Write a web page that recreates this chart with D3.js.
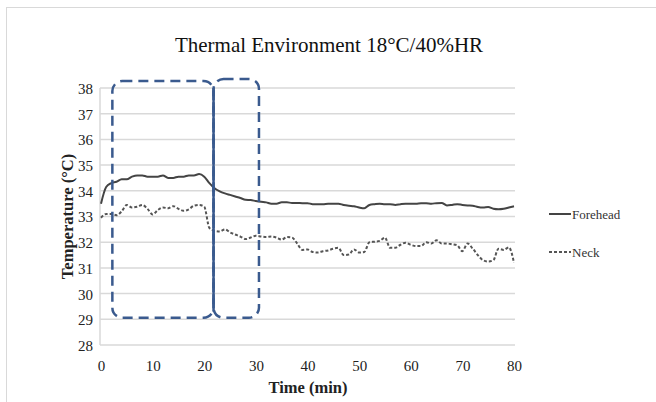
<!DOCTYPE html>
<html lang="en">
<head>
    <meta charset="UTF-8">
    <title>Thermal Environment 18°C/40%HR</title>
    <script src="https://d3js.org/d3.v7.min.js"></script>
    <style>
        body {
            margin: 0;
            background: white;
            font-family: "Liberation Serif", "Times New Roman", serif;
        }
        svg {
            display: block;
        }
        .grid line {
            stroke: #d9d9d9;
            stroke-width: 1.5;
        }
        .axis text {
            font-family: "Liberation Serif", serif;
            font-size: 15px;
            fill: #222;
        }
    </style>
</head>
<body>
<svg width="656" height="402"></svg>
<script>
    // minutes 0..80, one reading per minute
    const time = d3.range(0, 81);
    const forehead = [
        33.5, 34.15, 34.3, 34.35, 34.45, 34.45, 34.55, 34.6, 34.6, 34.55,
        34.55, 34.55, 34.6, 34.5, 34.5, 34.55, 34.55, 34.6, 34.6, 34.65,
        34.55, 34.3, 34.1, 33.98, 33.9, 33.84, 33.78, 33.72, 33.65, 33.64,
        33.6, 33.57, 33.55, 33.5, 33.5, 33.55, 33.55, 33.53, 33.53, 33.52,
        33.52, 33.48, 33.48, 33.48, 33.5, 33.5, 33.5, 33.45, 33.42, 33.4,
        33.35, 33.32, 33.45, 33.48, 33.5, 33.48, 33.48, 33.45, 33.48, 33.5,
        33.5, 33.5, 33.52, 33.52, 33.5, 33.52, 33.53, 33.43, 33.45, 33.48,
        33.45, 33.43, 33.42, 33.37, 33.35, 33.37, 33.3, 33.28, 33.3, 33.35,
        33.4
    ];
    const neck = [
        32.95, 33.1, 33.1, 33.05, 33.2, 33.45, 33.35, 33.38, 33.45, 33.3,
        33.08, 33.25, 33.35, 33.32, 33.4, 33.3, 33.22, 33.28, 33.42, 33.45,
        33.38, 32.55, 32.45, 32.42, 32.5, 32.38, 32.3, 32.22, 32.12, 32.18,
        32.25, 32.22, 32.2, 32.22, 32.18, 32.1, 32.2, 32.18, 31.95, 31.7,
        31.72, 31.62, 31.6, 31.65, 31.68, 31.75, 31.78, 31.5, 31.52, 31.72,
        31.6, 31.62, 32.0, 32.02, 32.05, 32.18, 31.78, 31.78, 31.9, 31.98,
        31.9, 31.85, 31.85, 32.0, 31.95, 32.08, 31.95, 31.95, 31.92, 31.88,
        31.65, 31.95, 31.75, 31.5, 31.3, 31.25, 31.3, 31.75, 31.7, 31.8,
        31.2
    ];
    const xTicks = [0, 10, 20, 30, 40, 50, 60, 70, 80];
    const yTicks = [28, 29, 30, 31, 32, 33, 34, 35, 36, 37, 38];

    // annotation boxes drawn over the plot, in data units [t0, t1, top, bottom]
    const phaseBoxes = [
        [2.2, 21.8, 38.27, 29.06],
        [21.8, 30.6, 38.35, 29.06]
    ];
    const splitLine = [21.8, 38.0, 29.3];

    const svg = d3.select("svg");
    const margin = { top: 88, left: 101, right: 142, bottom: 57 };
    const width = 656 - margin.left - margin.right,
        height = 402 - margin.top - margin.bottom;

    const x = d3.scaleLinear().domain([0, 80]).range([margin.left, margin.left + width]);
    const y = d3.scaleLinear().domain([28, 38]).range([margin.top + height, margin.top]);

    // outer frame
    svg.append("rect")
        .attr("x", 6.5).attr("y", 7.5)
        .attr("width", 660).attr("height", 400)
        .attr("fill", "none")
        .attr("stroke", "#d9d9d9");

    svg.append("text")
        .attr("x", 329).attr("y", 52)
        .attr("text-anchor", "middle")
        .attr("font-size", 21)
        .attr("fill", "#111")
        .text("Thermal Environment 18°C/40%HR");

    // horizontal grid
    svg.append("g").attr("class", "grid")
        .selectAll("line")
        .data(yTicks)
        .enter().append("line")
        .attr("x1", x(0) - 1).attr("x2", x(80) + 1)
        .attr("y1", d => y(d)).attr("y2", d => y(d));

    svg.append("line")
        .attr("x1", x(0) - 1).attr("x2", x(0) - 1)
        .attr("y1", y(38)).attr("y2", y(28))
        .attr("stroke", "#d9d9d9").attr("stroke-width", 1.5);

    const yAxis = svg.append("g").attr("class", "axis")
        .attr("transform", `translate(${x(0) - 1},0)`)
        .call(d3.axisLeft(y).tickValues(yTicks).tickSize(0).tickPadding(7));
    yAxis.select(".domain").remove();
    yAxis.selectAll("text").attr("dy", "0.36em");

    const xAxis = svg.append("g").attr("class", "axis")
        .attr("transform", `translate(0,${y(28)})`)
        .call(d3.axisBottom(x).tickValues(xTicks).tickSize(0).tickPadding(15));
    xAxis.select(".domain").remove();

    svg.append("text")
        .attr("transform", `translate(73,${y(33)}) rotate(-90)`)
        .attr("text-anchor", "middle")
        .attr("font-size", 16.5)
        .attr("font-weight", "bold")
        .attr("fill", "#222")
        .text("Temperature (°C)");

    svg.append("text")
        .attr("x", 308).attr("y", 393)
        .attr("text-anchor", "middle")
        .attr("font-size", 16.5)
        .attr("font-weight", "bold")
        .attr("fill", "#222")
        .text("Time (min)");

    const line = d3.line().x((d, i) => x(time[i])).y(d => y(d)).curve(d3.curveMonotoneX);

    svg.append("path")
        .datum(neck)
        .attr("d", line)
        .attr("fill", "none")
        .attr("stroke", "#555")
        .attr("stroke-width", 2)
        .attr("stroke-dasharray", "3,2");

    svg.append("path")
        .datum(forehead)
        .attr("d", line)
        .attr("fill", "none")
        .attr("stroke", "#444")
        .attr("stroke-width", 2);

    // blue phase boxes
    svg.selectAll(".phase")
        .data(phaseBoxes)
        .enter().append("rect")
        .attr("class", "phase")
        .attr("x", d => x(d[0]))
        .attr("y", d => y(d[2]))
        .attr("width", d => x(d[1]) - x(d[0]))
        .attr("height", d => y(d[3]) - y(d[2]))
        .attr("rx", 10)
        .attr("fill", "none")
        .attr("stroke", "#3a5a8e")
        .attr("stroke-width", 2.5)
        .attr("stroke-dasharray", "10,6");

    svg.append("line")
        .attr("x1", x(splitLine[0])).attr("x2", x(splitLine[0]))
        .attr("y1", y(splitLine[1])).attr("y2", y(splitLine[2]))
        .attr("stroke", "#3a5a8e")
        .attr("stroke-width", 2.5);

    // legend
    const legend = [
        { name: "Forehead", dash: null, color: "#444" },
        { name: "Neck", dash: "3,2", color: "#555" }
    ];
    const lg = svg.append("g").selectAll("g")
        .data(legend)
        .enter().append("g")
        .attr("transform", (d, i) => `translate(549,${214 + i * 38})`);
    lg.append("line")
        .attr("x1", 0).attr("x2", 22)
        .attr("stroke", d => d.color)
        .attr("stroke-width", 2)
        .attr("stroke-dasharray", d => d.dash);
    lg.append("text")
        .attr("x", 23).attr("dy", "0.35em")
        .attr("font-size", 13)
        .attr("fill", "#333")
        .text(d => d.name);
</script>
</body>
</html>
